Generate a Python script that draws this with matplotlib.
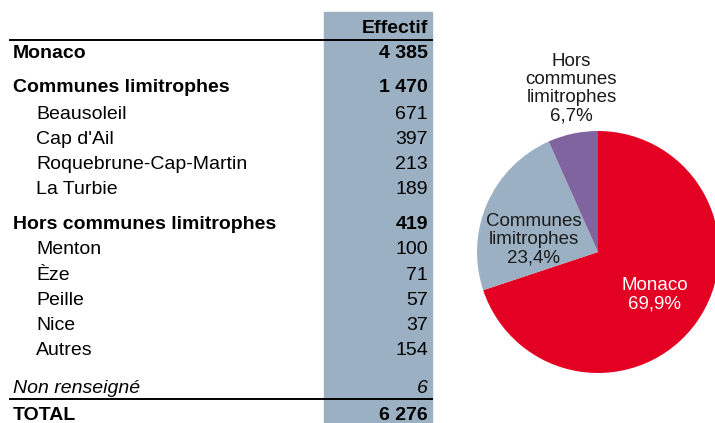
import matplotlib.pyplot as plt
from matplotlib.patches import Rectangle

plt.rcParams["font.family"] = ["Liberation Sans", "DejaVu Sans"]

# données du tableau
ROW_LABELS = ["Monaco", "Communes limitrophes", "Beausoleil", "Cap d'Ail",
              "Roquebrune-Cap-Martin", "La Turbie", "Hors communes limitrophes",
              "Menton", "Èze", "Peille", "Nice", "Autres", "Non renseigné", "TOTAL"]
ROW_VALUES = [4385, 1470, 671, 397, 213, 189, 419, 100, 71, 57, 37, 154, 6, 6276]
ROW_KIND = ["bold", "bold", "sub", "sub", "sub", "sub", "bold",
            "sub", "sub", "sub", "sub", "sub", "italic", "bold"]

# données du camembert
PIE_LABELS = ["Monaco", "Communes\nlimitrophes", "Hors\ncommunes\nlimitrophes"]
PIE_VALUES = [4385, 1470, 419]
PIE_COLORS = ["#e30022", "#9bb1c3", "#8064a0"]

W, H = 715, 423
# lignes de base (pixels)
ROW_Y = [57.5, 92.5, 119, 144, 169, 194, 229, 254, 280, 305, 330, 355, 393, 420]
FS = 14


def fmt(n):
    return f"{n:,}".replace(",", "\u00a0")


fig = plt.figure(figsize=(W / 100, H / 100), dpi=100)
ax = fig.add_axes([0, 0, 1, 1])
ax.set_xlim(0, W)
ax.set_ylim(H, 0)
ax.axis("off")

ax.add_patch(Rectangle((324, 12), 108, H - 12, color="#9bb0c2", zorder=0))
ax.text(428, 33, "Effectif", ha="right", va="baseline", fontsize=FS, fontweight="bold")
ax.plot([10, 432], [40, 40], color="black", lw=1.4)
ax.plot([10, 432], [399, 399], color="black", lw=1.4)

for lab, val, kind, y in zip(ROW_LABELS, ROW_VALUES, ROW_KIND, ROW_Y):
    weight = "bold" if kind == "bold" else "normal"
    style = "italic" if kind == "italic" else "normal"
    x = 36 if kind == "sub" else 13
    ax.text(x, y, lab, ha="left", va="baseline", fontsize=FS,
            fontweight=weight, fontstyle=style)
    ax.text(428, y, fmt(val), ha="right", va="baseline", fontsize=FS,
            fontweight=weight, fontstyle=style)

# camembert
cx, cy, r = 598, 252, 121
pax = fig.add_axes([(cx - r) / W, (H - cy - r) / H, 2 * r / W, 2 * r / H])
pax.pie(PIE_VALUES, colors=PIE_COLORS, startangle=90, counterclock=False,
        radius=1, wedgeprops=dict(linewidth=0))
pax.set_xlim(-1, 1)
pax.set_ylim(-1, 1)
pax.set_aspect("auto")

total = sum(PIE_VALUES)
label_pos = [(0.47, -0.355), (-0.53, 0.10), (-0.22, 1.35)]
label_col = ["white", "#1a1a1a", "#1a1a1a"]
for lab, val, (lx, ly), col in zip(PIE_LABELS, PIE_VALUES, label_pos, label_col):
    pct = f"{100 * val / total:.1f}%".replace(".", ",")
    pax.text(lx, ly, f"{lab}\n{pct}", ha="center", va="center", fontsize=13.5,
             color=col, linespacing=1.1, clip_on=False)

fig.savefig("out.png", dpi=100)
